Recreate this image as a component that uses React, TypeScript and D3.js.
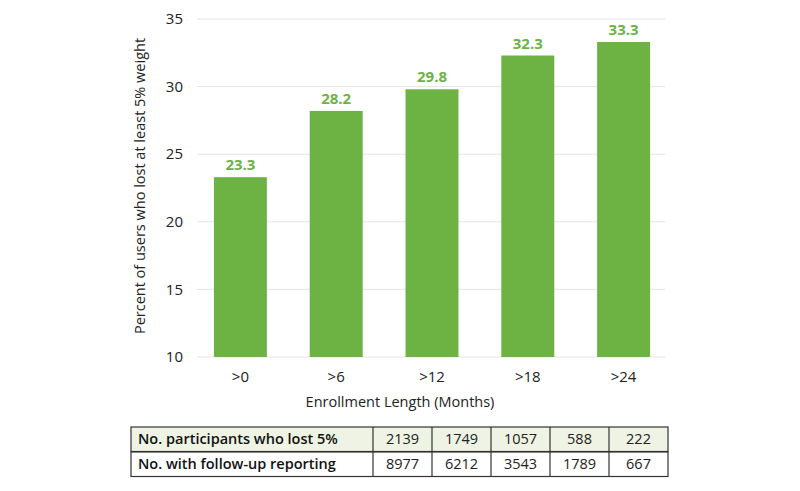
import { useEffect, useRef } from "react";
import * as d3 from "d3";

const categories = [">0", ">6", ">12", ">18", ">24"];
const percentLost = [23.3, 28.2, 29.8, 32.3, 33.3];
const yTicks = [10, 15, 20, 25, 30, 35];
const rowLabels = ["No. participants who lost 5%", "No. with follow-up reporting"];
const lostCounts = [2139, 1749, 1057, 588, 222];
const followUpCounts = [8977, 6212, 3543, 1789, 667];

const Width = 800;
const Height = 491;
const FONT = "'Open Sans', Lato, sans-serif";
const GREEN = "#6db344";

function App() {
    const svgRef = useRef<SVGSVGElement>(null);

    useEffect(() => {
        const svg = d3.select(svgRef.current);
        svg.selectAll("*").remove();

        const plotLeft = 197;
        const plotRight = 665;

        const xScale = d3.scaleBand().domain(categories).range([192.5, 671.5]).paddingInner(0.447).paddingOuter(0.2235);
        const yScale = d3.scaleLinear().domain([10, 35]).range([357, 19]);

        // grid lines
        svg.append("g")
            .selectAll("line")
            .data(yTicks)
            .join("line")
            .attr("x1", plotLeft)
            .attr("x2", plotRight)
            .attr("y1", (d) => yScale(d))
            .attr("y2", (d) => yScale(d))
            .attr("stroke", "#e4e4e4")
            .attr("stroke-width", 1);

        // y tick labels
        svg.append("g")
            .selectAll("text")
            .data(yTicks)
            .join("text")
            .attr("x", 183)
            .attr("y", (d) => yScale(d))
            .attr("dy", "0.35em")
            .attr("text-anchor", "end")
            .attr("font-family", FONT)
            .attr("font-size", 15)
            .attr("fill", "#222")
            .text((d) => d);

        // bars
        svg.append("g")
            .selectAll("rect")
            .data(percentLost)
            .join("rect")
            .attr("x", (d, i) => xScale(categories[i])!)
            .attr("width", xScale.bandwidth())
            .attr("y", (d) => yScale(d))
            .attr("height", (d) => yScale(10) - yScale(d))
            .attr("fill", GREEN);

        // value labels
        svg.append("g")
            .selectAll("text")
            .data(percentLost)
            .join("text")
            .attr("x", (d, i) => xScale(categories[i])! + xScale.bandwidth() / 2)
            .attr("y", (d) => yScale(d) - 7)
            .attr("text-anchor", "middle")
            .attr("font-family", FONT)
            .attr("font-size", 15)
            .attr("font-weight", "bold")
            .attr("fill", GREEN)
            .text((d) => d.toFixed(1));

        // category labels
        svg.append("g")
            .selectAll("text")
            .data(categories)
            .join("text")
            .attr("x", (d) => xScale(d)! + xScale.bandwidth() / 2)
            .attr("y", 377)
            .attr("dy", "0.35em")
            .attr("text-anchor", "middle")
            .attr("font-family", FONT)
            .attr("font-size", 15)
            .attr("fill", "#222")
            .text((d) => d);

        // axis titles
        svg.append("text")
            .attr("x", 400)
            .attr("y", 402)
            .attr("dy", "0.35em")
            .attr("text-anchor", "middle")
            .attr("font-family", FONT)
            .attr("font-size", 14.5)
            .attr("fill", "#222")
            .text("Enrollment Length (Months)");

        svg.append("text")
            .attr("transform", "translate(140, 186) rotate(-90)")
            .attr("dy", "0.35em")
            .attr("text-anchor", "middle")
            .attr("font-family", FONT)
            .attr("font-size", 14.5)
            .attr("fill", "#222")
            .text("Percent of users who lost at least 5% weight");

        // table
        const tableLeft = 131;
        const firstColRight = 373;
        const colWidth = (668 - firstColRight) / categories.length;
        const rowTops = [427, 452];
        const rowH = 24.5;
        const rows = [lostCounts, followUpCounts];

        const table = svg.append("g");
        rows.forEach((row, r) => {
            const y0 = rowTops[r];
            table.append("rect")
                .attr("x", tableLeft)
                .attr("y", y0)
                .attr("width", 668 - tableLeft)
                .attr("height", rowH)
                .attr("fill", r === 0 ? "#eef3e4" : "#fff")
                .attr("stroke", "#333")
                .attr("stroke-width", 1.2);
            table.append("text")
                .attr("x", tableLeft + 7)
                .attr("y", y0 + rowH / 2)
                .attr("dy", "0.35em")
                .attr("font-family", FONT)
                .attr("font-size", 14.5)
                .attr("font-weight", 600)
                .attr("fill", "#111")
                .text(rowLabels[r]);
            row.forEach((v, i) => {
                const cx = firstColRight + colWidth * i;
                table.append("line")
                    .attr("x1", cx)
                    .attr("x2", cx)
                    .attr("y1", y0)
                    .attr("y2", y0 + rowH)
                    .attr("stroke", "#333")
                    .attr("stroke-width", 1.2);
                table.append("text")
                    .attr("x", cx + colWidth / 2)
                    .attr("y", y0 + rowH / 2)
                    .attr("dy", "0.35em")
                    .attr("text-anchor", "middle")
                    .attr("font-family", FONT)
                    .attr("font-size", 14.5)
                    .attr("fill", "#222")
                    .text(v);
            });
        });
    }, []);

    return (
        <svg
            ref={svgRef}
            width={Width}
            height={Height}
            style={{ position: "absolute", left: 0, top: 0, background: "#fff" }}
        ></svg>
    );
}

export default App;
